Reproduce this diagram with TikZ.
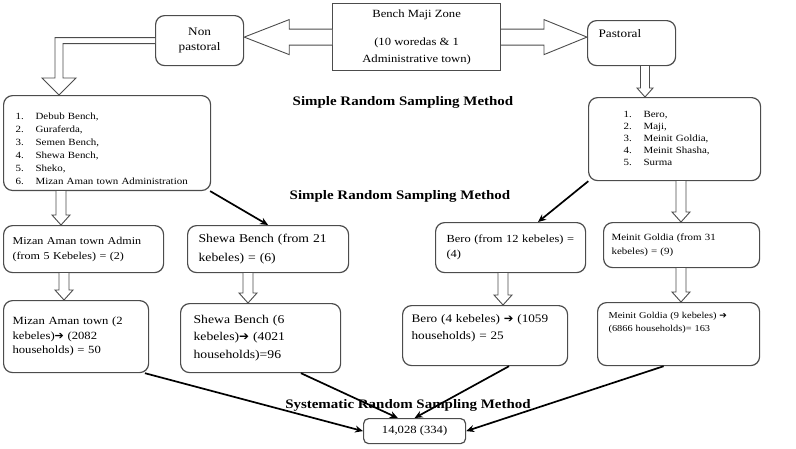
\documentclass[tikz,border=0pt]{standalone}
\usepackage{fontspec}
\setmainfont{Liberation Serif}[FakeStretch=1.15]
\newfontfamily\symfont{DejaVu Sans}
\usetikzlibrary{calc,arrows.meta}
\newcommand\fsz[2]{\fontsize{#1}{#2}\selectfont}
\newcommand\harrow{{\symfont ➔}}
\tikzset{
  box/.style={draw=black!70, line width=1.2pt, rounded corners=9pt, anchor=north west, align=left, inner ysep=2pt},
  hollow/.style n args={3}{fill=white, draw=black!70, line width=0.9pt, to path={
    let \p1=($(\tikztotarget)!#3!(\tikztostart)$) in
    ($(\tikztostart)!#1!90:(\tikztotarget)$) -- ($(\p1)!#1!90:(\tikztotarget)$) -- ($(\p1)!#2!90:(\tikztotarget)$)
    -- (\tikztotarget) -- ($(\p1)!#2!-90:(\tikztotarget)$) -- ($(\p1)!#1!-90:(\tikztotarget)$) -- ($(\tikztostart)!#1!-90:(\tikztotarget)$)}},
  link/.style={line width=1.7pt, -{Stealth[length=8pt,width=7pt]}},
  method/.style={font=\bfseries\fsz{13}{15}},
}
\begin{document}
\begin{tikzpicture}[x=1pt, y=-1pt]
\useasboundingbox (0,0) rectangle (796,448);
% zone and the two groups
\node[draw=black!70, line width=1.2pt, anchor=north west, minimum width=168pt, minimum height=67pt, align=center, font=\fsz{11}{17}] (zone) at (332,3) {Bench Maji Zone\\[11pt](10 woredas \& 1\\Administrative town)};
\node[box, minimum width=88pt, minimum height=50pt, align=center, font=\fsz{11.5}{15}] (nonpast) at (155,15) {Non\\pastoral};
\node[box, text width=66pt, inner xsep=11pt, minimum height=45pt, font=\fsz{11.5}{15}] (past) at (587,20) {Pastoral\\[4pt]\mbox{}};

% woreda lists
\node[box, text width=183pt, inner xsep=12pt, minimum height=92pt, font=\fsz{9.5}{13}] (leftlist) at (3,95) {\begin{tabular}{@{}p{20pt}@{}l@{}}\rule{0pt}{22pt}1. & Debub Bench,\\ 2. & Guraferda,\\ 3. & Semen Bench,\\ 4. & Shewa Bench,\\ 5. & Sheko,\\ 6. & Mizan Aman town Administration\end{tabular}};
\node[box, text width=102pt, inner xsep=35pt, minimum height=83pt, font=\fsz{9.5}{12}] (rightlist) at (588,97) {\begin{tabular}{@{}p{20pt}@{}l@{}}1. & Bero,\\ 2. & Maji,\\ 3. & Meinit Goldia,\\ 4. & Meinit Shasha,\\ 5. & Surma\end{tabular}};
\node[method] (srs1) at (403,102) {Simple Random Sampling Method};
\node[method] (srs2) at (400,196) {Simple Random Sampling Method};

% sampled woredas
\node[box, text width=142pt, inner xsep=9pt, minimum height=47pt, font=\fsz{10.5}{15}] (mizan) at (3,225) {Mizan Aman town Admin\\(from 5 Kebeles) = (2)};
\node[box, text width=139pt, inner xsep=11pt, minimum height=47pt, font=\fsz{11.9}{19}] (shewa) at (187,225) {Shewa Bench (from 21\\kebeles) = (6)};
\node[box, text width=128pt, inner xsep=11pt, minimum height=50pt, font=\fsz{10.8}{15}] (bero) at (435,222) {Bero (from 12 kebeles) =\\(4)};
\node[box, text width=140pt, inner xsep=8pt, minimum height=45pt, font=\fsz{9.5}{14}] (goldia) at (603,222) {Meinit Goldia (from 31\\kebeles) = (9)};

% sampled kebeles
\node[box, text width=127pt, inner xsep=9pt, minimum height=72pt, font=\fsz{11}{14.5}] (mizanhh) at (3,300) {Mizan Aman town (2\\kebeles)\harrow{} (2082\\households) = 50};
\node[box, text width=134pt, inner xsep=13pt, minimum height=69pt, font=\fsz{11.9}{17.5}] (shewahh) at (180,303) {Shewa Bench (6\\kebeles)\harrow{} (4021\\households)=96};
\node[box, text width=147pt, inner xsep=9pt, minimum height=60pt, font=\fsz{11.5}{17}] (berohh) at (402,305) {Bero (4 kebeles) \harrow{} (1059\\households) = 25\\\mbox{}};
\node[box, text width=140pt, inner xsep=11pt, minimum height=63pt, font=\fsz{9}{13}] (goldiahh) at (597,302) {Meinit Goldia (9 kebeles) \harrow{}\\(6866 households)= 163\\[11pt]\mbox{}};

\node[method] (sys) at (408,405) {Systematic Random Sampling Method};
\node[box, rounded corners=5pt, minimum width=102pt, minimum height=25pt, align=center, font=\fsz{11}{13}] (total) at (363,418) {14,028 (334)};

% hollow arrows
\draw[hollow={8pt}{17.5pt}{45pt}] (zone.west) to (zone.west -| nonpast.east);
\draw[hollow={8pt}{17.5pt}{43pt}] (zone.east) to (zone.east -| past.west);
\coordinate (tipL) at (leftlist.north -| 59,0);
\draw[fill=white, draw=black!70, line width=0.9pt] ([yshift=3pt]nonpast.west) -| ([xshift=-4pt,yshift=17pt]tipL) -- ++(-13,0) -- (tipL) -- ++(17,-17) -- ++(-13,0) |- ([yshift=-3pt]nonpast.west);
\draw[hollow={4.5pt}{8pt}{9pt}] (past.south -| 645,0) to (rightlist.north -| 645,0);
\draw[hollow={5pt}{9pt}{10pt}] (leftlist.south -| 61,0) to (mizan.north -| 61,0);
\draw[hollow={5pt}{9pt}{10pt}] (rightlist.south -| 681,0) to (goldia.north -| 681,0);
\draw[hollow={5pt}{9pt}{10pt}] (mizan.south -| 64,0) to (mizanhh.north -| 64,0);
\draw[hollow={5pt}{9pt}{10pt}] (shewa.south -| 248,0) to (shewahh.north -| 248,0);
\draw[hollow={5pt}{9pt}{10pt}] (bero.south -| 503,0) to (berohh.north -| 503,0);
\draw[hollow={5pt}{9pt}{10pt}] (goldia.south -| 681,0) to (goldiahh.north -| 681,0);

% solid arrows
\draw[link] (leftlist.-25) -- (shewa.north);
\draw[link] (rightlist.206) -- (bero.43);
\draw[link] (mizanhh.-28) -- (total.west);
\draw[link] (shewahh.-41) -- (total.142);
\draw[link] (berohh.-52) -- (total.north);
\draw[link] (goldiahh.-115) -- (total.east);
\end{tikzpicture}
\end{document}
